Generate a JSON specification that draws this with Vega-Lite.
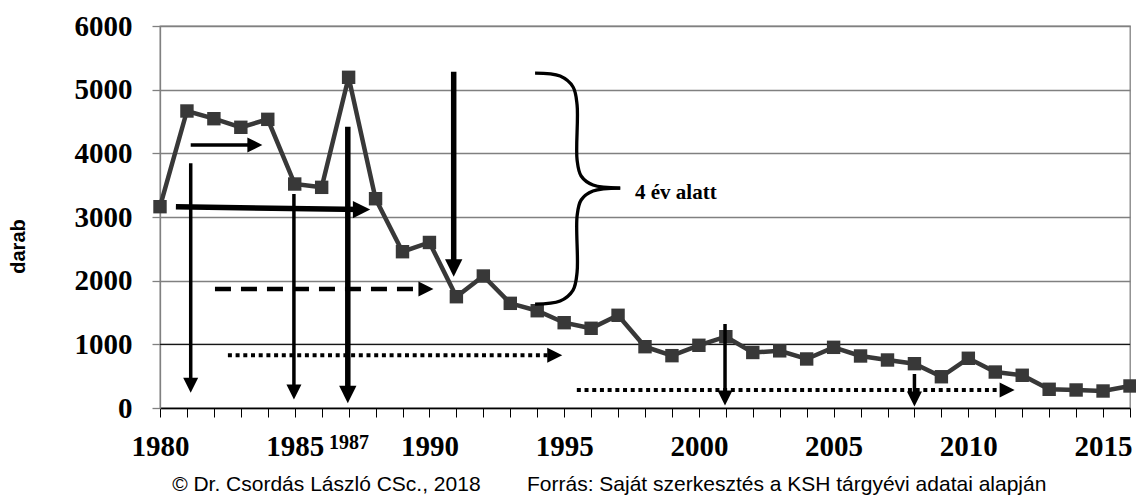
{
  "$schema": "https://vega.github.io/schema/vega-lite/v6.json",
  "width": 970,
  "height": 382,
  "autosize": {"type": "none"},
  "padding": {"left": 160, "top": 26, "right": 6, "bottom": 89},
  "background": "white",
  "config": {"view": {"stroke": "#808080", "strokeWidth": 1.3}},
  "datasets": {
    "series": [
      {"x": 1980, "y": 3162}, {"x": 1981, "y": 4665}, {"x": 1982, "y": 4544}, {"x": 1983, "y": 4409},
      {"x": 1984, "y": 4534}, {"x": 1985, "y": 3518}, {"x": 1986, "y": 3466}, {"x": 1987, "y": 5194},
      {"x": 1988, "y": 3287}, {"x": 1989, "y": 2455}, {"x": 1990, "y": 2600}, {"x": 1991, "y": 1748},
      {"x": 1992, "y": 2073}, {"x": 1993, "y": 1644}, {"x": 1994, "y": 1528}, {"x": 1995, "y": 1340},
      {"x": 1996, "y": 1252}, {"x": 1997, "y": 1456}, {"x": 1998, "y": 963}, {"x": 1999, "y": 822},
      {"x": 2000, "y": 985}, {"x": 2001, "y": 1120}, {"x": 2002, "y": 872}, {"x": 2003, "y": 898},
      {"x": 2004, "y": 770}, {"x": 2005, "y": 953}, {"x": 2006, "y": 817}, {"x": 2007, "y": 754},
      {"x": 2008, "y": 696}, {"x": 2009, "y": 491}, {"x": 2010, "y": 781}, {"x": 2011, "y": 565},
      {"x": 2012, "y": 514}, {"x": 2013, "y": 294}, {"x": 2014, "y": 283}, {"x": 2015, "y": 267},
      {"x": 2016, "y": 346}
    ],
    "refline": [
      {"x": 1980, "x2": 2016, "y": 1000}
    ],
    "arrows": [
      {"x": 1981.14, "y": 4131, "x2": 1983.52, "y2": 4131, "kind": "thin"},
      {"x": 1980.59, "y": 3162, "x2": 1987.48, "y2": 3116, "kind": "thick"},
      {"x": 1981.14, "y": 3843, "x2": 1981.14, "y2": 356, "kind": "thin"},
      {"x": 1984.97, "y": 3361, "x2": 1984.97, "y2": 251, "kind": "thin"},
      {"x": 1986.97, "y": 4418, "x2": 1986.97, "y2": 212, "kind": "thick"},
      {"x": 1990.9, "y": 5282, "x2": 1990.9, "y2": 2199, "kind": "thick"},
      {"x": 2000.97, "y": 1319, "x2": 2000.97, "y2": 157, "kind": "thin"},
      {"x": 2008.0, "y": 534, "x2": 2008.0, "y2": 141, "kind": "thin"},
      {"x": 1982.04, "y": 1869, "x2": 1989.87, "y2": 1869, "kind": "dashed"},
      {"x": 1982.52, "y": 828, "x2": 1994.65, "y2": 828, "kind": "dotted"},
      {"x": 1995.47, "y": 283, "x2": 2011.44, "y2": 283, "kind": "dotted"}
    ],
    "heads": [
      {"x": 1983.52, "y": 4131, "dir": "right", "kind": "thin"},
      {"x": 1987.48, "y": 3116, "dir": "right", "kind": "thick"},
      {"x": 1989.87, "y": 1869, "dir": "right", "kind": "thin"},
      {"x": 1994.65, "y": 828, "dir": "right", "kind": "thin"},
      {"x": 2011.44, "y": 283, "dir": "right", "kind": "thin"},
      {"x": 1981.14, "y": 356, "dir": "down", "kind": "thin"},
      {"x": 1984.97, "y": 251, "dir": "down", "kind": "thin"},
      {"x": 1986.97, "y": 212, "dir": "down", "kind": "thick"},
      {"x": 1990.9, "y": 2199, "dir": "down", "kind": "thick"},
      {"x": 2000.97, "y": 157, "dir": "down", "kind": "thin"},
      {"x": 2008.0, "y": 141, "dir": "down", "kind": "thin"}
    ],
    "brace": [
      {"x": 1993.92, "y": 5261, "part": "upper", "ord": 1},
      {"x": 1994.85, "y": 5214, "part": "upper", "ord": 2},
      {"x": 1995.33, "y": 5042, "part": "upper", "ord": 3},
      {"x": 1995.48, "y": 4759, "part": "upper", "ord": 4},
      {"x": 1995.48, "y": 3895, "part": "upper", "ord": 5},
      {"x": 1995.63, "y": 3644, "part": "upper", "ord": 6},
      {"x": 1996.07, "y": 3502, "part": "upper", "ord": 7},
      {"x": 1997.08, "y": 3455, "part": "upper", "ord": 8},
      {"x": 1997.08, "y": 3455, "part": "lower", "ord": 1},
      {"x": 1996.07, "y": 3408, "part": "lower", "ord": 2},
      {"x": 1995.63, "y": 3267, "part": "lower", "ord": 3},
      {"x": 1995.48, "y": 3016, "part": "lower", "ord": 4},
      {"x": 1995.48, "y": 2136, "part": "lower", "ord": 5},
      {"x": 1995.33, "y": 1853, "part": "lower", "ord": 6},
      {"x": 1994.85, "y": 1681, "part": "lower", "ord": 7},
      {"x": 1993.92, "y": 1633, "part": "lower", "ord": 8}
    ],
    "notes": [
      {"x": 1997.63, "y": 3381, "label": "4 év alatt"}
    ],
    "footer": [
      {"x": 1980.45, "y": -1210, "label": "© Dr. Csordás László CSc., 2018"},
      {"x": 1993.62, "y": -1210, "label": "Forrás: Saját szerkesztés a KSH tárgyévi adatai alapján"}
    ]
  },
  "encoding": {
    "x": {"field": "x", "type": "quantitative",
      "scale": {"domain": [1980, 2016], "nice": false, "zero": false},
      "axis": {
        "values": [1980,1981,1982,1983,1984,1985,1986,1987,1988,1989,1990,1991,1992,1993,1994,1995,1996,1997,1998,1999,2000,2001,2002,2003,2004,2005,2006,2007,2008,2009,2010,2011,2012,2013,2014,2015,2016],
        "format": "d",
        "labelExpr": "(datum.value % 5 == 0 || datum.value == 1987) ? datum.label : ''",
        "grid": false, "title": null,
        "domainColor": "#000000", "domainWidth": 1.3,
        "tickColor": "#000000", "tickSize": 9, "tickWidth": 1,
        "labelFont": "Liberation Serif", "labelFontWeight": "bold",
        "labelFontSize": {"expr": "datum.value == 1987 ? 20 : 29"},
        "labelColor": "#000000", "labelPadding": 15,
        "labelFlush": false, "labelOverlap": false, "labelBound": false
      }
    },
    "y": {"field": "y", "type": "quantitative",
      "scale": {"domain": [0, 6000]},
      "axis": {
        "values": [0, 1000, 2000, 3000, 4000, 5000, 6000],
        "grid": true, "gridColor": "#808080", "gridWidth": 1.3,
        "domainColor": "#808080", "domainWidth": 1.3,
        "tickColor": "#808080", "tickSize": 8, "tickWidth": 1.3,
        "labelFont": "Liberation Serif", "labelFontWeight": "bold", "labelFontSize": 29,
        "labelColor": "#000000", "labelPadding": 20, "format": "d",
        "title": "darab", "titleFont": "Liberation Sans", "titleFontSize": 20,
        "titleFontWeight": "bold", "titleColor": "#000000",
        "titleX": -142, "titleY": 220, "titleAngle": -90,
        "titleAlign": "center", "titleBaseline": "middle"
      }
    }
  },
  "layer": [
    {
      "data": {"name": "refline"},
      "mark": {"type": "rule", "color": "#000000", "strokeWidth": 1},
      "encoding": {"x2": {"field": "x2"}}
    },
    {
      "data": {"name": "series"},
      "mark": {"type": "line", "color": "#383838", "strokeWidth": 4.5}
    },
    {
      "data": {"name": "series"},
      "mark": {"type": "point", "shape": "square", "filled": true, "color": "#383838", "opacity": 1, "size": 180}
    },
    {
      "data": {"name": "arrows"},
      "transform": [{"filter": "datum.kind == 'thin'"}],
      "mark": {"type": "rule", "color": "#000000", "strokeWidth": 3.5},
      "encoding": {"x2": {"field": "x2"}, "y2": {"field": "y2"}}
    },
    {
      "data": {"name": "arrows"},
      "transform": [{"filter": "datum.kind == 'thick'"}],
      "mark": {"type": "rule", "color": "#000000", "strokeWidth": 5.5},
      "encoding": {"x2": {"field": "x2"}, "y2": {"field": "y2"}}
    },
    {
      "data": {"name": "arrows"},
      "transform": [{"filter": "datum.kind == 'dashed'"}],
      "mark": {"type": "rule", "color": "#000000", "strokeWidth": 4.5, "strokeDash": [16, 10], "strokeCap": "butt"},
      "encoding": {"x2": {"field": "x2"}, "y2": {"field": "y2"}}
    },
    {
      "data": {"name": "arrows"},
      "transform": [{"filter": "datum.kind == 'dotted'"}],
      "mark": {"type": "rule", "color": "#000000", "strokeWidth": 4, "strokeDash": [4, 3.7], "strokeCap": "butt"},
      "encoding": {"x2": {"field": "x2"}, "y2": {"field": "y2"}}
    },
    {
      "data": {"name": "heads"},
      "transform": [{"filter": "datum.kind == 'thin'"}],
      "mark": {"type": "point", "filled": true, "color": "#000000", "opacity": 1, "size": 225, "strokeWidth": 0},
      "encoding": {
        "shape": {"field": "dir", "type": "nominal", "scale": {"domain": ["down", "right"], "range": ["M-1,-1L1,-1L0,1Z", "M-1,-1L1,0L-1,1Z"]}, "legend": null}
      }
    },
    {
      "data": {"name": "heads"},
      "transform": [{"filter": "datum.kind == 'thick'"}],
      "mark": {"type": "point", "filled": true, "color": "#000000", "opacity": 1, "size": 300, "strokeWidth": 0},
      "encoding": {
        "shape": {"field": "dir", "type": "nominal", "scale": {"domain": ["down", "right"], "range": ["M-1,-1L1,-1L0,1Z", "M-1,-1L1,0L-1,1Z"]}, "legend": null}
      }
    },
    {
      "data": {"name": "brace"},
      "mark": {"type": "line", "color": "#000000", "strokeWidth": 3.3, "interpolate": "catmull-rom"},
      "encoding": {
        "detail": {"field": "part", "type": "nominal"},
        "order": {"field": "ord", "type": "quantitative"}
      }
    },
    {
      "data": {"name": "notes"},
      "mark": {"type": "text", "font": "Liberation Serif", "fontWeight": "bold", "fontSize": 21, "align": "left", "baseline": "middle", "color": "#000000"},
      "encoding": {"text": {"field": "label"}}
    },
    {
      "data": {"name": "footer"},
      "mark": {"type": "text", "font": "Liberation Sans", "fontSize": 21, "align": "left", "baseline": "middle", "color": "#000000"},
      "encoding": {"text": {"field": "label"}}
    }
  ]
}
